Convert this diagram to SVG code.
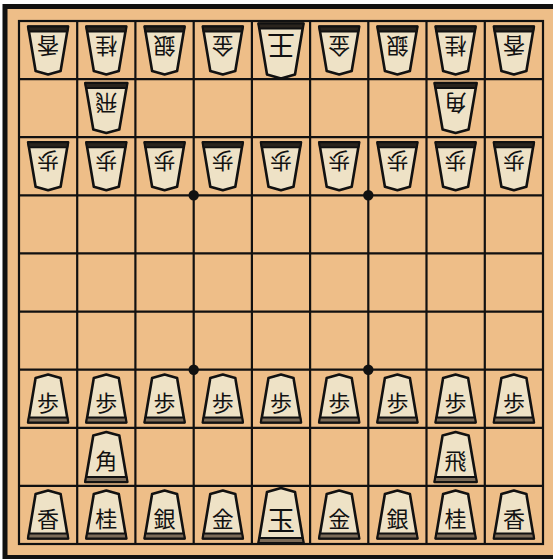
<svg xmlns="http://www.w3.org/2000/svg" xmlns:xlink="http://www.w3.org/1999/xlink" width="553" height="559" viewBox="0 0 553 559">
<style>
.face{fill:#EEE2C6;stroke:#111;stroke-width:2.6;stroke-linejoin:round}
.strip{fill:#7B6B58;stroke:#111;stroke-width:1.8;stroke-linejoin:round}
.g .strip{fill:#2a241d}
.k{font-family:"Noto Sans CJK JP","Noto Sans CJK SC",sans-serif;font-size:22px;fill:#111;text-anchor:middle;dominant-baseline:central}
.kk{font-size:28px}
.grid{fill:none;stroke:#111;stroke-width:2.2}
</style>
<defs>
<path id="sh" d="M0,-24 L12.5,-20.5 L20,24 L-20,24 L-12.5,-20.5 Z"/>
<path id="st" d="M-19.2,19 L19.2,19 L20,24 L-20,24 Z"/>
<path id="shB" d="M0,-25 L13,-21.5 L21,25 L-21,25 L-13,-21.5 Z"/>
<path id="stB" d="M-20.2,20 L20.2,20 L21,25 L-21,25 Z"/>
<path id="shK" d="M0,-27.5 L14,-23.5 L22.5,27.5 L-22.5,27.5 L-14,-23.5 Z"/>
<path id="stK" d="M-21.6,22.5 L21.6,22.5 L22.5,27.5 L-22.5,27.5 Z"/>
</defs>
<rect x="5" y="6.5" width="552" height="551" fill="#EEBE88" stroke="#111" stroke-width="5"/>
<g id="board-grid">
<rect class="grid" x="19" y="21" width="524" height="523"/>
<path class="grid" d="M77.2,21V544M135.4,21V544M193.7,21V544M251.9,21V544M310.1,21V544M368.3,21V544M426.5,21V544M484.8,21V544M19,79.1H543M19,137.2H543M19,195.3H543M19,253.4H543M19,311.6H543M19,369.7H543M19,427.8H543M19,485.9H543"/>
<circle cx="193.7" cy="195.3" r="5.2" fill="#111"/>
<circle cx="368.3" cy="195.3" r="5.2" fill="#111"/>
<circle cx="193.7" cy="369.7" r="5.2" fill="#111"/>
<circle cx="368.3" cy="369.7" r="5.2" fill="#111"/>
</g>
<g id="connectors"></g>
<!-- Gote (top, rotated) -->
<g class="g" id="g-lance-l" transform="translate(48.1,50.5) rotate(180)"><use href="#sh" class="face"/><use href="#st" class="strip"/><text class="k" y="3">香</text></g>
<g class="g" id="g-knight-l" transform="translate(106.3,50.5) rotate(180)"><use href="#sh" class="face"/><use href="#st" class="strip"/><text class="k" y="3">桂</text></g>
<g class="g" id="g-silver-l" transform="translate(164.6,50.5) rotate(180)"><use href="#sh" class="face"/><use href="#st" class="strip"/><text class="k" y="3">銀</text></g>
<g class="g" id="g-gold-l" transform="translate(222.8,50.5) rotate(180)"><use href="#sh" class="face"/><use href="#st" class="strip"/><text class="k" y="3">金</text></g>
<g class="g" id="g-king" transform="translate(281,51) rotate(180)"><use href="#shK" class="face"/><use href="#stK" class="strip"/><text class="k kk" y="4">王</text></g>
<g class="g" id="g-gold-r" transform="translate(339.2,50.5) rotate(180)"><use href="#sh" class="face"/><use href="#st" class="strip"/><text class="k" y="3">金</text></g>
<g class="g" id="g-silver-r" transform="translate(397.4,50.5) rotate(180)"><use href="#sh" class="face"/><use href="#st" class="strip"/><text class="k" y="3">銀</text></g>
<g class="g" id="g-knight-r" transform="translate(455.6,50.5) rotate(180)"><use href="#sh" class="face"/><use href="#st" class="strip"/><text class="k" y="3">桂</text></g>
<g class="g" id="g-lance-r" transform="translate(513.9,50.5) rotate(180)"><use href="#sh" class="face"/><use href="#st" class="strip"/><text class="k" y="3">香</text></g>
<g class="g" id="g-rook" transform="translate(106.3,108) rotate(180)"><use href="#shB" class="face"/><use href="#stB" class="strip"/><text class="k" y="3">飛</text></g>
<g class="g" id="g-bishop" transform="translate(455.6,108) rotate(180)"><use href="#shB" class="face"/><use href="#stB" class="strip"/><text class="k" y="3">角</text></g>
<g class="g" id="g-pawn-1" transform="translate(48.1,166.3) rotate(180)"><use href="#sh" class="face"/><use href="#st" class="strip"/><text class="k" y="3">歩</text></g>
<g class="g" id="g-pawn-2" transform="translate(106.3,166.3) rotate(180)"><use href="#sh" class="face"/><use href="#st" class="strip"/><text class="k" y="3">歩</text></g>
<g class="g" id="g-pawn-3" transform="translate(164.6,166.3) rotate(180)"><use href="#sh" class="face"/><use href="#st" class="strip"/><text class="k" y="3">歩</text></g>
<g class="g" id="g-pawn-4" transform="translate(222.8,166.3) rotate(180)"><use href="#sh" class="face"/><use href="#st" class="strip"/><text class="k" y="3">歩</text></g>
<g class="g" id="g-pawn-5" transform="translate(281,166.3) rotate(180)"><use href="#sh" class="face"/><use href="#st" class="strip"/><text class="k" y="3">歩</text></g>
<g class="g" id="g-pawn-6" transform="translate(339.2,166.3) rotate(180)"><use href="#sh" class="face"/><use href="#st" class="strip"/><text class="k" y="3">歩</text></g>
<g class="g" id="g-pawn-7" transform="translate(397.4,166.3) rotate(180)"><use href="#sh" class="face"/><use href="#st" class="strip"/><text class="k" y="3">歩</text></g>
<g class="g" id="g-pawn-8" transform="translate(455.6,166.3) rotate(180)"><use href="#sh" class="face"/><use href="#st" class="strip"/><text class="k" y="3">歩</text></g>
<g class="g" id="g-pawn-9" transform="translate(513.9,166.3) rotate(180)"><use href="#sh" class="face"/><use href="#st" class="strip"/><text class="k" y="3">歩</text></g>
<!-- Sente (bottom) -->
<g id="s-pawn-1" transform="translate(48.1,398.5)"><use href="#sh" class="face"/><use href="#st" class="strip"/><text class="k" y="2">歩</text></g>
<g id="s-pawn-2" transform="translate(106.3,398.5)"><use href="#sh" class="face"/><use href="#st" class="strip"/><text class="k" y="2">歩</text></g>
<g id="s-pawn-3" transform="translate(164.6,398.5)"><use href="#sh" class="face"/><use href="#st" class="strip"/><text class="k" y="2">歩</text></g>
<g id="s-pawn-4" transform="translate(222.8,398.5)"><use href="#sh" class="face"/><use href="#st" class="strip"/><text class="k" y="2">歩</text></g>
<g id="s-pawn-5" transform="translate(281,398.5)"><use href="#sh" class="face"/><use href="#st" class="strip"/><text class="k" y="2">歩</text></g>
<g id="s-pawn-6" transform="translate(339.2,398.5)"><use href="#sh" class="face"/><use href="#st" class="strip"/><text class="k" y="2">歩</text></g>
<g id="s-pawn-7" transform="translate(397.4,398.5)"><use href="#sh" class="face"/><use href="#st" class="strip"/><text class="k" y="2">歩</text></g>
<g id="s-pawn-8" transform="translate(455.6,398.5)"><use href="#sh" class="face"/><use href="#st" class="strip"/><text class="k" y="2">歩</text></g>
<g id="s-pawn-9" transform="translate(513.9,398.5)"><use href="#sh" class="face"/><use href="#st" class="strip"/><text class="k" y="2">歩</text></g>
<g id="s-bishop" transform="translate(106.3,457)"><use href="#shB" class="face"/><use href="#stB" class="strip"/><text class="k" y="2">角</text></g>
<g id="s-rook" transform="translate(455.6,457)"><use href="#shB" class="face"/><use href="#stB" class="strip"/><text class="k" y="2">飛</text></g>
<g id="s-lance-l" transform="translate(48.1,514.5)"><use href="#sh" class="face"/><use href="#st" class="strip"/><text class="k" y="2">香</text></g>
<g id="s-knight-l" transform="translate(106.3,514.5)"><use href="#sh" class="face"/><use href="#st" class="strip"/><text class="k" y="2">桂</text></g>
<g id="s-silver-l" transform="translate(164.6,514.5)"><use href="#sh" class="face"/><use href="#st" class="strip"/><text class="k" y="2">銀</text></g>
<g id="s-gold-l" transform="translate(222.8,514.5)"><use href="#sh" class="face"/><use href="#st" class="strip"/><text class="k" y="2">金</text></g>
<g id="s-king" transform="translate(281,515.5)"><use href="#shK" class="face"/><use href="#stK" class="strip"/><text class="k kk" y="3">玉</text></g>
<g id="s-gold-r" transform="translate(339.2,514.5)"><use href="#sh" class="face"/><use href="#st" class="strip"/><text class="k" y="2">金</text></g>
<g id="s-silver-r" transform="translate(397.4,514.5)"><use href="#sh" class="face"/><use href="#st" class="strip"/><text class="k" y="2">銀</text></g>
<g id="s-knight-r" transform="translate(455.6,514.5)"><use href="#sh" class="face"/><use href="#st" class="strip"/><text class="k" y="2">桂</text></g>
<g id="s-lance-r" transform="translate(513.9,514.5)"><use href="#sh" class="face"/><use href="#st" class="strip"/><text class="k" y="2">香</text></g>
</svg>
